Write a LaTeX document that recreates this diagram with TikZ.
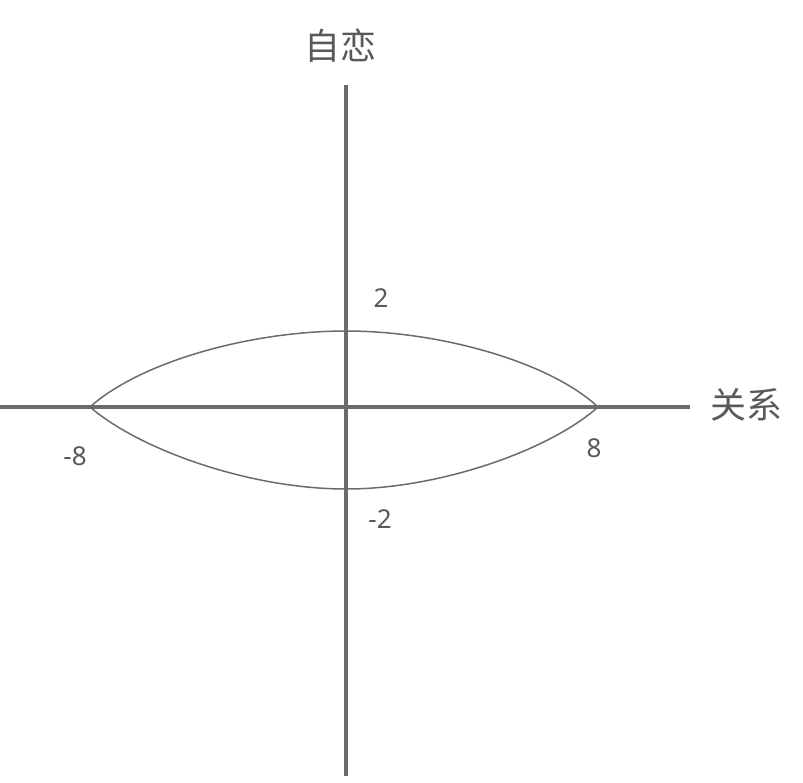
\documentclass[tikz,border=0pt]{standalone}
\usepackage{fontspec}
\newfontfamily\cjk{Noto Sans CJK SC}
\setmainfont{Noto Sans}
\begin{document}
\begin{tikzpicture}[x=1pt,y=-1pt,
  axis/.style={draw=black!58,line width=4.5pt},
  lens/.style={draw=black!58,line width=1.5pt},
  lbl/.style={text=black!65,font=\fontsize{26}{26}\selectfont},
  big/.style={text=black!65,font=\cjk\fontsize{36}{36}\selectfont}]
\useasboundingbox (0,0) rectangle (803,782);
\coordinate (xl) at (0,407); \coordinate (xr) at (690,407);
\coordinate (yt) at (346,85); \coordinate (yb) at (346,776);
\draw[axis] (xl) -- (xr);
\draw[axis] (yt) -- (yb);
\coordinate (L) at (90,407); \coordinate (R) at (598,407);
\coordinate (T) at (346,331); \coordinate (B) at (346,489);
\draw[lens] (L) .. controls (140,362) and (250,331) .. (T)
  .. controls (440,331) and (550,362) .. (R)
  .. controls (550,450) and (440,489) .. (B)
  .. controls (250,489) and (140,450) .. (L);
\node[big] (zl) at (340,46) {自恋};
\node[big] (gx) at (746,405) {关系};
\node[lbl] (n2) at (381,298) {2};
\node[lbl] (nm8) at (75,456) {-8};
\node[lbl] (n8) at (594,448) {8};
\node[lbl] (nm2) at (380,519) {-2};
\end{tikzpicture}
\end{document}
